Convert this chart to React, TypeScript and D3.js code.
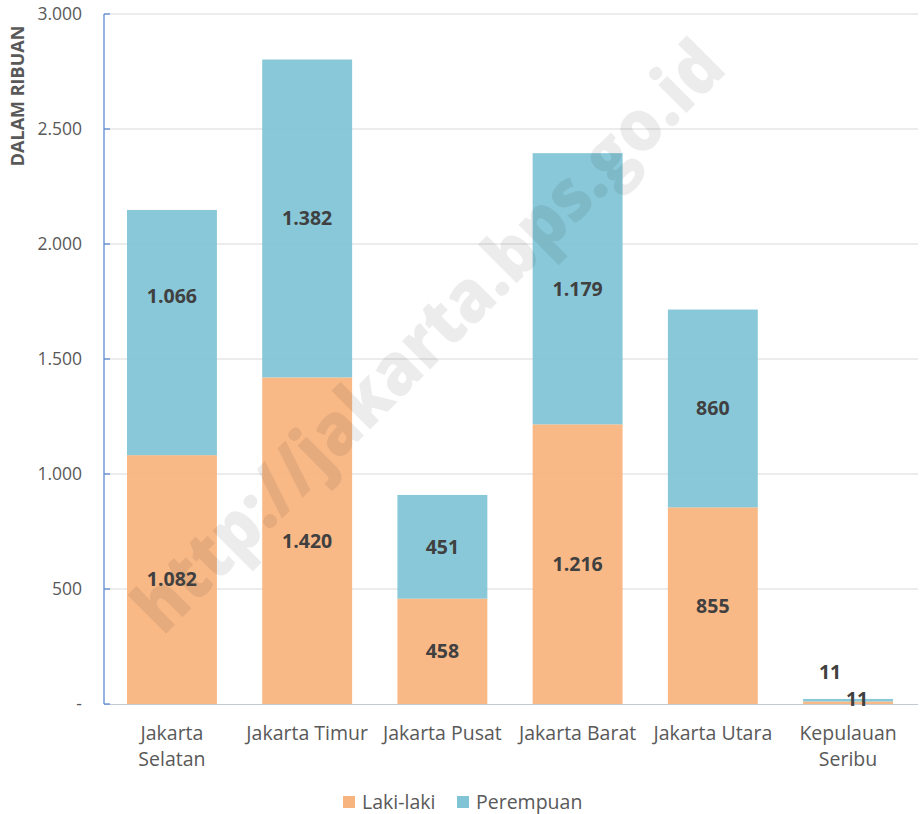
import React, { useEffect, useRef } from 'react';
import * as d3 from 'd3';

const regions = ['Jakarta Selatan', 'Jakarta Timur', 'Jakarta Pusat', 'Jakarta Barat', 'Jakarta Utara', 'Kepulauan Seribu'];
const regionLines = [['Jakarta', 'Selatan'], ['Jakarta Timur'], ['Jakarta Pusat'], ['Jakarta Barat'], ['Jakarta Utara'], ['Kepulauan', 'Seribu']];
const lakiLaki = [1082, 1420, 458, 1216, 855, 11];
const perempuan = [1066, 1382, 451, 1179, 860, 11];
const yTicks = [0, 500, 1000, 1500, 2000, 2500, 3000];
const seriesNames = ['Laki-laki', 'Perempuan'];
const colors = ['#F8B47E', '#80C4D6'];

const FONT = '"Open Sans", Lato, sans-serif';

const App = () => {
    const ref = useRef<SVGSVGElement>(null);

    useEffect(() => {
        const width = 923;
        const height = 814;
        const margin = { top: 14, right: 5, bottom: 110, left: 104 };
        const svg = d3.select(ref.current);
        svg.selectAll('*').remove();

        const x = d3.scaleBand<string>()
            .domain(regions)
            .range([margin.left, width - margin.right - 2])
            .paddingInner(0.335)
            .paddingOuter(0.17);

        const y = d3.scaleLinear()
            .domain([0, 3000])
            .range([height - margin.bottom, margin.top]);

        const fmt = (v: number) => v === 0 ? '-' : d3.format(',')(v).replace(/,/g, '.');

        // gridlines
        svg.append('g')
            .selectAll('line')
            .data(yTicks.filter(t => t > 0))
            .enter()
            .append('line')
            .attr('x1', margin.left)
            .attr('x2', width - margin.right)
            .attr('y1', d => y(d))
            .attr('y2', d => y(d))
            .attr('stroke', '#D9D9D9')
            .attr('stroke-width', 1);

        // stacked bars
        const rows = regions.map((r, i) => ({ region: r, laki: lakiLaki[i], perempuan: perempuan[i] }));
        const stack = d3.stack<any>().keys(['laki', 'perempuan'])(rows);

        svg.append('g')
            .selectAll('g')
            .data(stack)
            .enter()
            .append('g')
            .attr('fill', (d, i) => colors[i])
            .attr('fill-opacity', 0.93)
            .selectAll('rect')
            .data(d => d)
            .enter()
            .append('rect')
            .attr('x', d => x(d.data.region)!)
            .attr('width', x.bandwidth())
            .attr('y', d => y(d[1]))
            .attr('height', d => y(d[0]) - y(d[1]));

        // watermark
        svg.append('text')
            .attr('transform', 'translate(426,334) rotate(-45)')
            .attr('text-anchor', 'middle')
            .attr('dominant-baseline', 'central')
            .attr('font-family', FONT)
            .attr('font-weight', 800)
            .attr('font-size', 72)
            .attr('textLength', 800)
            .attr('lengthAdjust', 'spacingAndGlyphs')
            .attr('fill', '#000')
            .attr('fill-opacity', 0.075)
            .text('http://jakarta.bps.go.id');

        // x axis line
        svg.append('line')
            .attr('x1', margin.left)
            .attr('x2', width - margin.right)
            .attr('y1', y(0) + 0.5)
            .attr('y2', y(0) + 0.5)
            .attr('stroke', '#C4CAD4');

        // y axis
        const yAxis = svg.append('g').attr('transform', `translate(${margin.left},0)`);
        yAxis.append('line')
            .attr('x1', 0).attr('x2', 0)
            .attr('y1', y(3000)).attr('y2', y(0))
            .attr('stroke', '#5B8BD0').attr('stroke-width', 1.3);
        yAxis.selectAll('.tick')
            .data(yTicks)
            .enter()
            .append('line')
            .attr('x1', 0).attr('x2', 6)
            .attr('y1', d => y(d)).attr('y2', d => y(d))
            .attr('stroke', '#5B8BD0').attr('stroke-width', 1.3);
        svg.append('g')
            .selectAll('text')
            .data(yTicks)
            .enter()
            .append('text')
            .attr('x', 82)
            .attr('y', d => y(d))
            .attr('dy', '0.35em')
            .attr('text-anchor', 'end')
            .attr('font-family', FONT)
            .attr('font-size', 17.5)
            .attr('fill', '#595959')
            .text(fmt);

        svg.append('text')
            .attr('transform', 'translate(17,96) rotate(-90)')
            .attr('text-anchor', 'middle')
            .attr('dominant-baseline', 'central')
            .attr('font-family', FONT)
            .attr('font-weight', 700)
            .attr('font-size', 18)
            .attr('fill', '#595959')
            .text('DALAM RIBUAN');

        // x labels
        const xl = svg.append('g')
            .selectAll('text')
            .data(regions)
            .enter()
            .append('text')
            .attr('x', d => x(d)! + x.bandwidth() / 2)
            .attr('y', 740)
            .attr('text-anchor', 'middle')
            .attr('font-family', FONT)
            .attr('font-size', 19.5)
            .attr('fill', '#595959');
        xl.selectAll('tspan')
            .data((d, i) => regionLines[i])
            .enter()
            .append('tspan')
            .attr('x', function () { return (this.parentNode as SVGTextElement).getAttribute('x'); })
            .attr('dy', (d, i) => i === 0 ? 0 : 26)
            .text(d => d);

        // data labels (center of each segment; a few nudged like the original)
        const nudge: Record<string, [number, number]> = {
            'perempuan-0': [0, -36],
            'laki-5': [9, -4],
            'perempuan-5': [-18, -28],
        };
        stack.forEach(s => {
            svg.append('g')
                .selectAll('text')
                .data(s)
                .enter()
                .append('text')
                .attr('x', (d, i) => x(d.data.region)! + x.bandwidth() / 2 + (nudge[`${s.key}-${i}`]?.[0] ?? 0))
                .attr('y', (d, i) => y((d[0] + d[1]) / 2) + (nudge[`${s.key}-${i}`]?.[1] ?? 0))
                .attr('dy', '0.35em')
                .attr('text-anchor', 'middle')
                .attr('font-family', FONT)
                .attr('font-weight', 700)
                .attr('font-size', 19.5)
                .attr('fill', '#404040')
                .text(d => fmt(d[1] - d[0]));
        });

        // legend
        const legend = svg.append('g')
            .selectAll('g')
            .data(seriesNames)
            .enter()
            .append('g')
            .attr('transform', (d, i) => `translate(${i === 0 ? 343 : 457},796)`);
        legend.append('rect')
            .attr('width', 12).attr('height', 12)
            .attr('fill', (d, i) => colors[i]);
        legend.append('text')
            .attr('x', 19).attr('y', 6)
            .attr('dy', '0.35em')
            .attr('font-family', FONT)
            .attr('font-size', 19.5)
            .attr('fill', '#595959')
            .text(d => d);
    }, []);

    return (
        <svg ref={ref} width={923} height={814} style={{ position: 'absolute', left: 0, top: 0, background: '#fff' }} />
    );
};

export default App;
